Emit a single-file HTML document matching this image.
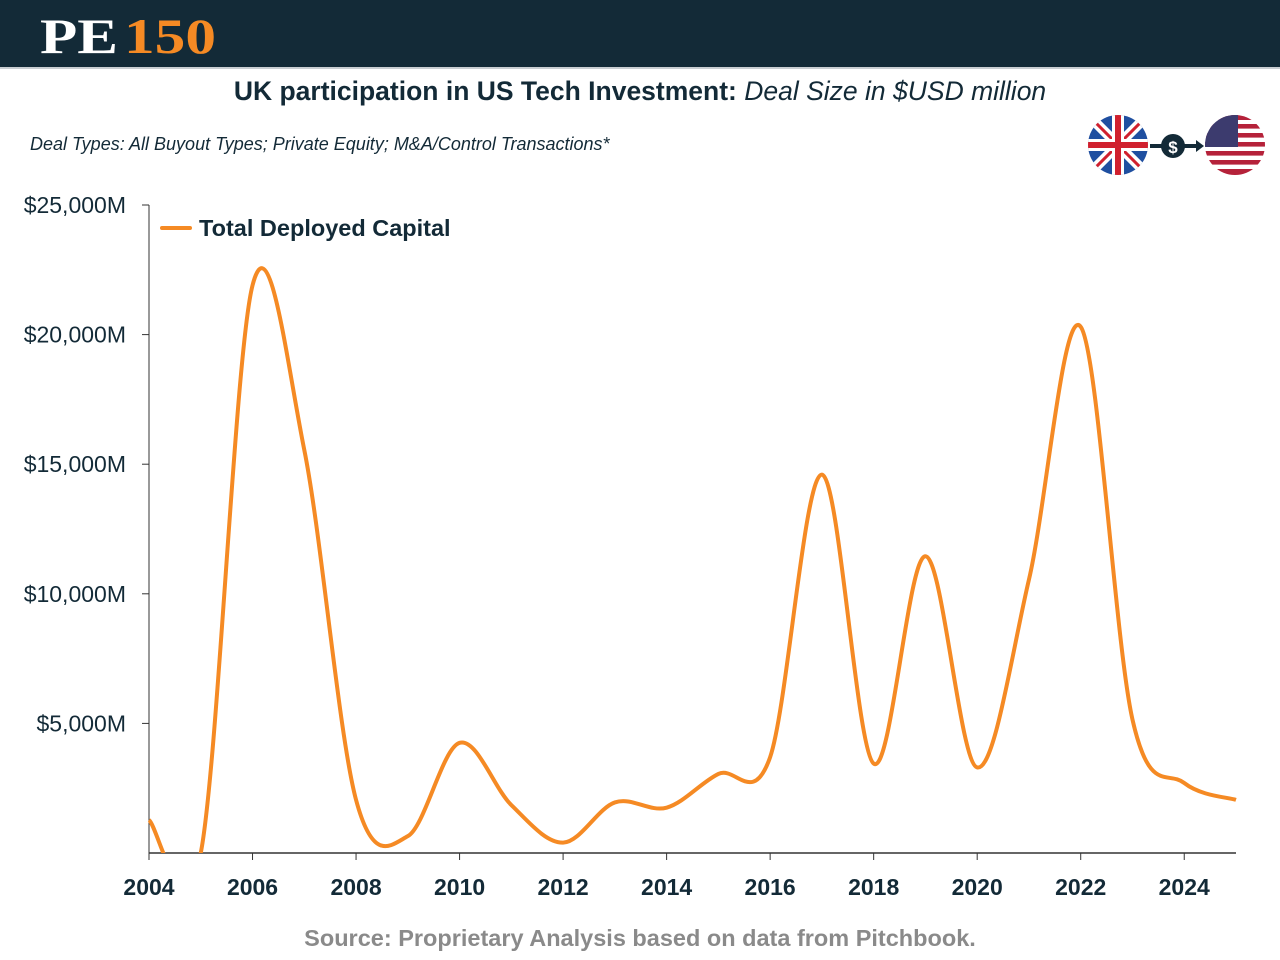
<!DOCTYPE html>
<html><head><meta charset="utf-8"><style>
html,body{margin:0;padding:0;background:#fff;width:1280px;height:960px;overflow:hidden;font-family:"Liberation Sans",sans-serif}
</style></head><body>
<svg width="1280" height="960" viewBox="0 0 1280 960" xmlns="http://www.w3.org/2000/svg">
<rect x="0" y="0" width="1280" height="68" fill="#132a37"/>
<rect x="0" y="67" width="1280" height="2" fill="#c9ced2"/>
<g>
<text x="40" y="53" font-family="Liberation Serif,serif" font-weight="bold" font-size="50" fill="#fff" textLength="78" lengthAdjust="spacingAndGlyphs">PE</text>
<text x="124" y="53" font-family="Liberation Serif,serif" font-weight="bold" font-size="50" fill="#f58a24" textLength="92" lengthAdjust="spacingAndGlyphs">150</text>
</g>
<text x="640" y="100" text-anchor="middle" font-size="26.5" fill="#132a37"><tspan font-weight="bold">UK participation in US Tech Investment: </tspan><tspan font-style="italic">Deal Size in $USD million</tspan></text>
<text x="30" y="150" font-size="18" font-style="italic" fill="#132a37">Deal Types: All Buyout Types; Private Equity; M&amp;A/Control Transactions*</text>
<g>
<defs>
<clipPath id="ukc"><circle cx="1118" cy="145" r="30"/></clipPath>
<clipPath id="usc"><circle cx="1235" cy="145" r="30"/></clipPath>
<clipPath id="plotclip"><rect x="100" y="150" width="1160" height="703"/></clipPath>
</defs>
<g clip-path="url(#ukc)">
<rect x="1088" y="115" width="60" height="60" fill="#1f4fa0"/>
<line x1="1088" y1="115" x2="1148" y2="175" stroke="#fff" stroke-width="10"/>
<line x1="1148" y1="115" x2="1088" y2="175" stroke="#fff" stroke-width="10"/>
<line x1="1088" y1="115" x2="1148" y2="175" stroke="#d0202e" stroke-width="3"/>
<line x1="1148" y1="115" x2="1088" y2="175" stroke="#d0202e" stroke-width="3"/>
<rect x="1112" y="115" width="12" height="60" fill="#fff"/>
<rect x="1088" y="139" width="60" height="12" fill="#fff"/>
<rect x="1115" y="115" width="6" height="60" fill="#d0202e"/>
<rect x="1088" y="142" width="60" height="6" fill="#d0202e"/>
</g>
<line x1="1150" y1="146" x2="1200" y2="146" stroke="#132a37" stroke-width="4"/>
<polygon points="1196,140 1204,146 1196,152" fill="#132a37"/>
<circle cx="1173" cy="146" r="12" fill="#132a37"/>
<text x="1173" y="153" text-anchor="middle" font-size="17" font-weight="bold" fill="#fff">$</text>
<g clip-path="url(#usc)">
<rect x="1205" y="115" width="60" height="60" fill="#fff"/>
<rect x="1205" y="115" width="60" height="5" fill="#b5223a"/>
<rect x="1205" y="124" width="60" height="4.6" fill="#b5223a"/>
<rect x="1205" y="133" width="60" height="4.6" fill="#b5223a"/>
<rect x="1205" y="142" width="60" height="4.6" fill="#b5223a"/>
<rect x="1205" y="151" width="60" height="4.6" fill="#b5223a"/>
<rect x="1205" y="160" width="60" height="4.6" fill="#b5223a"/>
<rect x="1205" y="169" width="60" height="6" fill="#b5223a"/>
<rect x="1205" y="115" width="33" height="32" fill="#3c3b6e"/>
</g>
</g>
<g id="axes"></g>
<g id="plot" clip-path="url(#plotclip)"></g>
<g>
<line x1="162" y1="228" x2="190" y2="228" stroke="#f58a24" stroke-width="4" stroke-linecap="round"/>
<text x="199" y="236" font-size="23.5" font-weight="bold" fill="#132a37">Total Deployed Capital</text>
</g>
<text x="640" y="946" text-anchor="middle" font-size="23.5" font-weight="bold" fill="#8a8a8a">Source: Proprietary Analysis based on data from Pitchbook.</text>
</svg>
<script>
const years = [2004,2005,2006,2007,2008,2009,2010,2011,2012,2013,2014,2015,2016,2017,2018,2019,2020,2021,2022,2023,2024,2025];
const capital = [1270,0,21900,15550,2050,650,4250,1850,400,1950,1750,3050,3700,14600,3450,11450,3300,10550,20300,5150,2700,2050];
const yTicks = [5000,10000,15000,20000,25000];
const yTickLabels = ["$5,000M","$10,000M","$15,000M","$20,000M","$25,000M"];
const xTicks = [2004,2006,2008,2010,2012,2014,2016,2018,2020,2022,2024];

const NS="http://www.w3.org/2000/svg";
const xS = v => 149 + (v-2004)*(1236-149)/21;
const yS = v => 853 - v*(853-205)/25000;
function mk(t,a,p){const e=document.createElementNS(NS,t);for(const k in a)e.setAttribute(k,a[k]);p.appendChild(e);return e;}
const ax=document.getElementById('axes');
const yAxis=mk('line',{x1:149,y1:205,x2:149,y2:853,stroke:'#333','stroke-width':1},ax);


const xAxis=mk('line',{x1:149,y1:853,x2:1236,y2:853,stroke:'#333','stroke-width':1.5},ax);


yTicks.forEach((v,i)=>{
  mk('line',{x1:142,y1:yS(v),x2:149,y2:yS(v),stroke:'#333'},ax);
  const t=mk('text',{x:126,y:yS(v)+8,'text-anchor':'end','font-size':23,fill:'#132a37'},ax);
  t.textContent=yTickLabels[i];
  
  
});
xTicks.forEach(v=>{
  mk('line',{x1:xS(v),y1:853,x2:xS(v),y2:860,stroke:'#333'},ax);
  const t=mk('text',{x:xS(v),y:895,'text-anchor':'middle','font-size':23,'font-weight':'bold',fill:'#132a37'},ax);
  t.textContent=v;
  
  
});
const pts=years.map((y,i)=>[xS(y),yS(capital[i])]);
let d=`M${pts[0][0]},${pts[0][1]}`;
for(let i=0;i<pts.length-1;i++){
  const p0=pts[Math.max(0,i-1)],p1=pts[i],p2=pts[i+1],p3=pts[Math.min(pts.length-1,i+2)];
  const c1=[p1[0]+(p2[0]-p0[0])/6,p1[1]+(p2[1]-p0[1])/6];
  const c2=[p2[0]-(p3[0]-p1[0])/6,p2[1]-(p3[1]-p1[1])/6];
  d+=` C${c1[0]},${c1[1]} ${c2[0]},${c2[1]} ${p2[0]},${p2[1]}`;
}
const line=mk('path',{d:d,fill:'none',stroke:'#f58a24','stroke-width':4,'stroke-linejoin':'round'},document.getElementById('plot'));


</script>
</body></html>
